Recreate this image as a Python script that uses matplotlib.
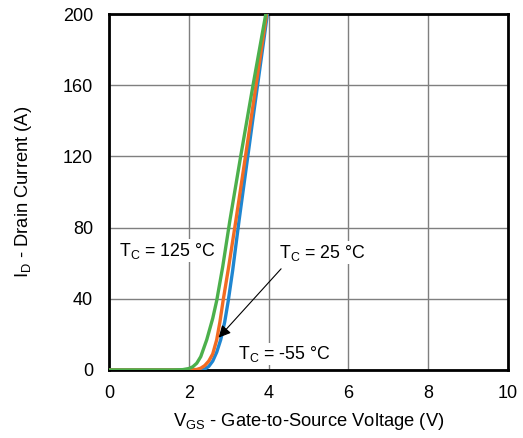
import matplotlib
matplotlib.use('Agg')
import matplotlib.pyplot as plt

plt.rcParams['font.family'] = ['Liberation Sans', 'DejaVu Sans']
plt.rcParams['mathtext.default'] = 'regular'

# transfer characteristics
vgs_m55 = [0, 2.2, 2.4, 2.5, 2.6, 2.7, 2.8, 2.9, 2.99, 3.1, 3.26, 3.6, 3.97]
id_m55 = [0, 0, 0.5, 2, 5, 10, 17, 27, 39, 56, 84, 140, 200]

vgs_25 = [0, 2.0, 2.2, 2.3, 2.4, 2.5, 2.6, 2.7, 2.78, 2.86, 3.0, 3.18, 3.5, 3.95]
id_25 = [0, 0, 0.3, 1, 2.5, 5, 9, 17, 27, 39, 58, 84, 132, 200]

vgs_125 = [0, 1.6, 1.85, 2.0, 2.1, 2.2, 2.3, 2.45, 2.6, 2.7, 2.85, 3.03, 3.3, 3.61, 3.93]
id_125 = [0, 0, 0.2, 0.8, 1.8, 3.8, 7.5, 17, 29, 39, 58, 84, 120, 160, 200]

x_ticks = [0, 2, 4, 6, 8, 10]
y_ticks = [0, 40, 80, 120, 160, 200]

fig = plt.figure(figsize=(5.23, 4.38), dpi=100)
ax = fig.add_axes([0.2084, 0.1553, 0.7629, 0.8127])

ax.plot(vgs_m55, id_m55, color='#1f86d1', lw=2.4, zorder=3)
ax.plot(vgs_25, id_25, color='#f26b22', lw=2.4, zorder=4)
ax.plot(vgs_125, id_125, color='#4cb04c', lw=2.4, zorder=5)

ax.set_xlim(0, 10)
ax.set_ylim(0, 200)
ax.set_xticks(x_ticks)
ax.set_yticks(y_ticks)
ax.tick_params(length=0, labelsize=13)
ax.tick_params(axis='x', pad=11)
ax.tick_params(axis='y', pad=11.5)
ax.grid(color='#7f7f7f', lw=1.0)
ax.set_axisbelow(True)
for s in ax.spines.values():
    s.set_linewidth(2)

ax.set_xlabel('V$_{GS}$ - Gate-to-Source Voltage (V)', fontsize=13.2, labelpad=6)
ax.set_ylabel('I$_{D}$ - Drain Current (A)', fontsize=13.2, labelpad=21)

box = dict(facecolor='white', edgecolor='none', pad=1)
ax.text(0.25, 67, 'T$_{C}$ = 125 °C', fontsize=12.8, va='center', ha='left', bbox=box, zorder=6)
ax.text(4.25, 66, 'T$_{C}$ = 25 °C', fontsize=12.8, va='center', ha='left', bbox=box, zorder=6)
ax.text(3.23, 9, 'T$_{C}$ = -55 °C', fontsize=12.8, va='center', ha='left', bbox=box, zorder=6)

ax.annotate('', xy=(2.7, 17), xytext=(4.36, 58),
            arrowprops=dict(arrowstyle='-|>', color='black', lw=0.8,
                            mutation_scale=18), zorder=7)

fig.savefig('out.png', dpi=100)
